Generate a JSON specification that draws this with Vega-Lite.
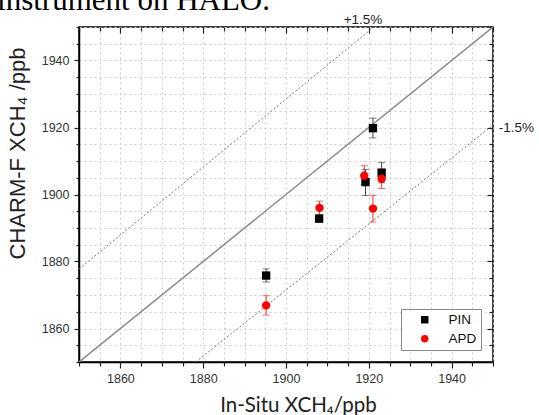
{
  "$schema": "https://vega.github.io/schema/vega-lite/v6.json",
  "autosize": {"type": "none"},
  "width": 414,
  "height": 335,
  "padding": {"left": 79, "top": 27, "right": 46, "bottom": 53},
  "background": "white",
  "config": {
    "view": {"stroke": "black", "strokeWidth": 1.5},
    "font": "Liberation Sans"
  },
  "datasets": {
    "pts": [
      {"series": "PIN", "x": 1895.2, "y": 1875.8, "lo": 1873.9, "hi": 1877.8},
      {"series": "PIN", "x": 1908.0, "y": 1892.8, "lo": 1891.8, "hi": 1893.8},
      {"series": "PIN", "x": 1919.2, "y": 1903.7, "lo": 1899.7, "hi": 1907.5},
      {"series": "PIN", "x": 1921.0, "y": 1919.8, "lo": 1916.9, "hi": 1922.8},
      {"series": "PIN", "x": 1923.1, "y": 1906.5, "lo": 1903.5, "hi": 1909.6},
      {"series": "APD", "x": 1895.2, "y": 1866.9, "lo": 1864.0, "hi": 1869.8},
      {"series": "APD", "x": 1908.1, "y": 1896.0, "lo": 1894.0, "hi": 1898.0},
      {"series": "APD", "x": 1918.9, "y": 1905.6, "lo": 1903.0, "hi": 1908.6},
      {"series": "APD", "x": 1921.0, "y": 1895.8, "lo": 1891.8, "hi": 1899.8},
      {"series": "APD", "x": 1923.1, "y": 1904.7, "lo": 1901.8, "hi": 1907.6}
    ],
    "ref": [
      {"line": "1:1", "x": 1850, "y": 1850},
      {"line": "1:1", "x": 1950, "y": 1950}
    ],
    "dev": [
      {"line": "+1.5%", "x": 1850, "y": 1877.75},
      {"line": "+1.5%", "x": 1921.2, "y": 1950},
      {"line": "-1.5%", "x": 1878.2, "y": 1850},
      {"line": "-1.5%", "x": 1950, "y": 1920.75}
    ],
    "labelTop": [
      {"text": "+1.5%", "x": 1918.6, "y": 1952.1}
    ],
    "labelRight": [
      {"text": "-1.5%", "x": 1951.4, "y": 1920.0}
    ],
    "header": [
      {"text": "instrument on HALO.", "x": 1830.2, "y": 1955.1}
    ]
  },
  "layer": [
    {
      "data": {"name": "ref"},
      "mark": {"type": "line", "color": "#8a8a8a", "strokeWidth": 1.5, "clip": true},
      "encoding": {
        "x": {
          "field": "x", "type": "quantitative",
          "scale": {"domain": [1850, 1950], "nice": false, "zero": false},
          "axis": {
            "orient": "bottom",
            "values": [1850,1855,1860,1865,1870,1875,1880,1885,1890,1895,1900,1905,1910,1915,1920,1925,1930,1935,1940,1945,1950],
            "format": "d",
            "labelExpr": "datum.value % 20 === 0 ? datum.label : ''",
            "labelOverlap": false,
            "labelFontSize": 12.5,
            "labelColor": "#333",
            "labelPadding": 4,
            "tickSize": {"condition": {"test": "datum.value % 20 === 0", "value": 6}, "value": 4},
            "tickColor": "#222",
            "tickWidth": 1.2,
            "domainColor": "#000",
            "domainWidth": 1.5,
            "grid": true,
            "gridDash": [2, 3],
            "gridColor": "#cccccc",
            "gridWidth": 1,
            "title": "In-Situ XCH₄/ppb",
            "titleFont": "Lato",
            "titleFontSize": 20.5,
            "titleFontWeight": "normal",
            "titleColor": "#222",
            "titleX": 219,
            "titleY": 49,
            "titleAlign": "center",
            "titleBaseline": "alphabetic"
          }
        },
        "y": {
          "field": "y", "type": "quantitative",
          "scale": {"domain": [1850, 1950], "nice": false, "zero": false},
          "axis": {
            "orient": "left",
            "values": [1850,1855,1860,1865,1870,1875,1880,1885,1890,1895,1900,1905,1910,1915,1920,1925,1930,1935,1940,1945,1950],
            "format": "d",
            "labelExpr": "datum.value % 20 === 0 ? datum.label : ''",
            "labelOverlap": false,
            "labelFontSize": 12.5,
            "labelColor": "#333",
            "labelPadding": 5,
            "tickSize": {"condition": {"test": "datum.value % 20 === 0", "value": 5}, "value": 3},
            "tickColor": "#222",
            "tickWidth": 1.2,
            "domainColor": "#000",
            "domainWidth": 1.5,
            "grid": true,
            "gridDash": [2, 3],
            "gridColor": "#cccccc",
            "gridWidth": 1,
            "title": "CHARM-F XCH₄     /ppb",
            "titleFont": "Liberation Sans",
            "titleFontSize": 22,
            "titleFontWeight": "normal",
            "titleColor": "#222",
            "titleAngle": -90,
            "titleX": -62,
            "titleY": 126,
            "titleAlign": "center",
            "titleBaseline": "middle"
          }
        }
      }
    },
    {
      "data": {"name": "dev"},
      "mark": {"type": "line", "color": "#777", "strokeWidth": 1, "strokeDash": [2, 2], "clip": true},
      "encoding": {
        "x": {
          "field": "x", "type": "quantitative",
          "axis": {
            "orient": "top",
            "values": [1850,1855,1860,1865,1870,1875,1880,1885,1890,1895,1900,1905,1910,1915,1920,1925,1930,1935,1940,1945,1950],
            "labels": false,
            "tickSize": {"condition": {"test": "datum.value % 20 === 0", "value": -6}, "value": -4},
            "tickColor": "#222",
            "tickWidth": 1.2,
            "domain": false,
            "grid": false,
            "title": null
          }
        },
        "y": {
          "field": "y", "type": "quantitative",
          "axis": {
            "orient": "right",
            "values": [1850,1855,1860,1865,1870,1875,1880,1885,1890,1895,1900,1905,1910,1915,1920,1925,1930,1935,1940,1945,1950],
            "labels": false,
            "tickSize": {"condition": {"test": "datum.value % 20 === 0", "value": -6}, "value": -4},
            "tickColor": "#222",
            "tickWidth": 1.2,
            "domain": false,
            "grid": false,
            "title": null
          }
        },
        "detail": {"field": "line", "type": "nominal"}
      }
    },
    {
      "data": {"name": "pts"},
      "mark": {"type": "rule", "strokeWidth": 1},
      "encoding": {
        "x": {"field": "x", "type": "quantitative", "axis": null},
        "y": {"field": "lo", "type": "quantitative", "axis": null},
        "y2": {"field": "hi"},
        "stroke": {"condition": {"test": "datum.series === 'APD'", "value": "#ee3333"}, "value": "#444444"}
      }
    },
    {
      "data": {"name": "pts"},
      "mark": {"type": "tick", "orient": "horizontal", "size": 7, "thickness": 1},
      "encoding": {
        "x": {"field": "x", "type": "quantitative", "axis": null},
        "y": {"field": "lo", "type": "quantitative", "axis": null},
        "color": {"condition": {"test": "datum.series === 'APD'", "value": "#ee3333"}, "value": "#444444"}
      }
    },
    {
      "data": {"name": "pts"},
      "mark": {"type": "tick", "orient": "horizontal", "size": 7, "thickness": 1},
      "encoding": {
        "x": {"field": "x", "type": "quantitative", "axis": null},
        "y": {"field": "hi", "type": "quantitative", "axis": null},
        "color": {"condition": {"test": "datum.series === 'APD'", "value": "#ee3333"}, "value": "#444444"}
      }
    },
    {
      "data": {"name": "pts"},
      "mark": {"type": "point", "filled": true, "opacity": 1, "size": 70},
      "encoding": {
        "x": {"field": "x", "type": "quantitative", "axis": null},
        "y": {"field": "y", "type": "quantitative", "axis": null},
        "shape": {
          "field": "series", "type": "nominal",
          "scale": {"domain": ["PIN", "APD"], "range": ["square", "circle"]},
          "legend": {
            "title": null,
            "orient": "bottom-right",
            "offset": 12,
            "strokeColor": "#888",
            "fillColor": "white",
            "padding": 4,
            "labelFont": "Liberation Sans",
            "labelFontSize": 13.5,
            "labelColor": "#111",
            "symbolSize": 55,
            "rowPadding": 4,
            "symbolOffset": 13,
            "labelOffset": 17
          }
        },
        "color": {
          "field": "series", "type": "nominal",
          "scale": {"domain": ["PIN", "APD"], "range": ["#000000", "#ff0000"]},
          "legend": {
            "title": null,
            "orient": "bottom-right",
            "offset": 12,
            "strokeColor": "#888",
            "fillColor": "white",
            "padding": 4,
            "labelFont": "Liberation Sans",
            "labelFontSize": 13.5,
            "labelColor": "#111",
            "symbolSize": 55,
            "rowPadding": 4,
            "symbolOffset": 13,
            "labelOffset": 17
          }
        }
      }
    },
    {
      "data": {"name": "labelTop"},
      "mark": {"type": "text", "fontSize": 13.5, "font": "Liberation Sans", "color": "#222", "align": "center", "baseline": "middle", "clip": false},
      "encoding": {
        "x": {"field": "x", "type": "quantitative", "axis": null},
        "y": {"field": "y", "type": "quantitative", "axis": null},
        "text": {"field": "text"}
      }
    },
    {
      "data": {"name": "labelRight"},
      "mark": {"type": "text", "fontSize": 13.5, "font": "Liberation Sans", "color": "#222", "align": "left", "baseline": "middle", "clip": false},
      "encoding": {
        "x": {"field": "x", "type": "quantitative", "axis": null},
        "y": {"field": "y", "type": "quantitative", "axis": null},
        "text": {"field": "text"}
      }
    },
    {
      "data": {"name": "header"},
      "mark": {"type": "text", "fontSize": 31, "font": "Liberation Serif", "color": "#000", "align": "left", "baseline": "alphabetic", "clip": false},
      "encoding": {
        "x": {"field": "x", "type": "quantitative", "axis": null},
        "y": {"field": "y", "type": "quantitative", "axis": null},
        "text": {"field": "text"}
      }
    }
  ]
}
